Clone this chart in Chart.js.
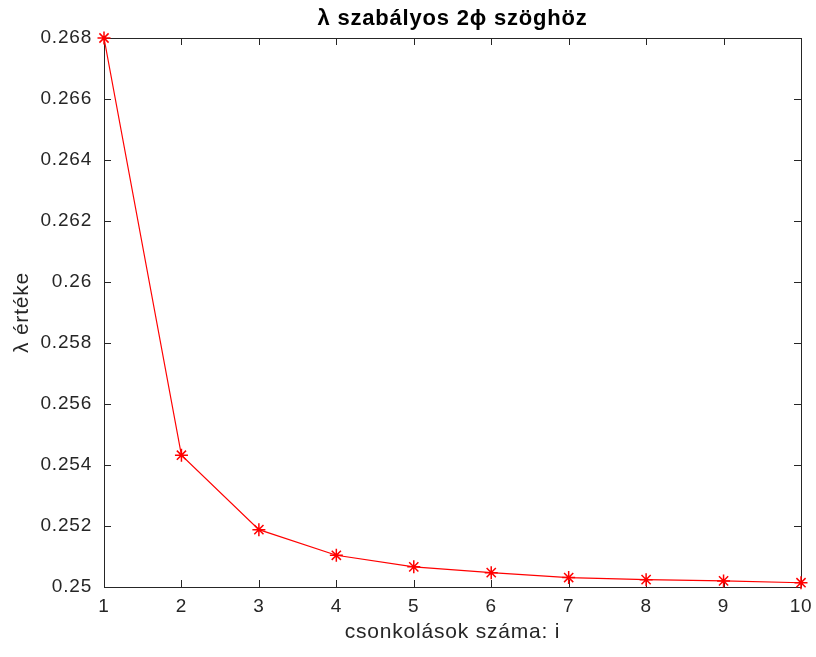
<!DOCTYPE html>
<html>
<head>
<meta charset="utf-8">
<script src="https://cdn.jsdelivr.net/npm/chart.js@4"></script>
<style>
    html, body { margin: 0; padding: 0; background: #fff; }
    canvas { display: block; }
</style>
</head>
<body>
<canvas id="lambdaChart" width="816" height="657"></canvas>
<script>
const iterations = [1, 2, 3, 4, 5, 6, 7, 8, 9, 10];
const lambdaValues = [0.268, 0.25432, 0.25188, 0.25104, 0.25066, 0.25047, 0.25031, 0.25024, 0.2502, 0.25014];
const yTicks = [0.25, 0.252, 0.254, 0.256, 0.258, 0.26, 0.262, 0.264, 0.266, 0.268];
const chartTitle = "λ szabályos 2ϕ szöghöz";
const xTitle = "csonkolások száma: i";
const yTitle = "λ értéke";

const axisColor = "#262626";
const fontFamily = "'Liberation Sans', Arial, Helvetica, sans-serif";

// box around the plot area + inward tick marks on all four sides (matlab look)
const matlabAxes = {
    id: "matlabAxes",
    beforeInit(chart) {
        chart.ctx.letterSpacing = "0.8px"; // matlab text is a bit wider
    },
    beforeDraw(chart) {
        chart.ctx.letterSpacing = "0.8px";
    },
    beforeDatasetsDraw(chart) {
        const { ctx, chartArea: a } = chart;
        const xs = chart.scales.x;
        const ys = chart.scales.y;
        const len = 7;
        ctx.save();
        ctx.strokeStyle = axisColor;
        ctx.lineWidth = 1;
        ctx.beginPath();
        ctx.rect(a.left + 0.5, a.top + 0.5, a.right - a.left, a.bottom - a.top);
        xs.ticks.forEach((t) => {
            const px = Math.round(xs.getPixelForValue(t.value)) + 0.5;
            ctx.moveTo(px, a.bottom);
            ctx.lineTo(px, a.bottom - len);
            ctx.moveTo(px, a.top);
            ctx.lineTo(px, a.top + len);
        });
        ys.ticks.forEach((t) => {
            const py = Math.round(ys.getPixelForValue(t.value)) + 0.5;
            ctx.moveTo(a.left, py);
            ctx.lineTo(a.left + len, py);
            ctx.moveTo(a.right, py);
            ctx.lineTo(a.right - len, py);
        });
        ctx.stroke();

        // title centred over the axes
        ctx.fillStyle = "#000";
        ctx.font = "bold 22px " + fontFamily;
        ctx.textAlign = "center";
        ctx.textBaseline = "middle";
        ctx.fillText(chartTitle, (a.left + a.right) / 2, 19);
        ctx.restore();
    },
};

function renderChart() {
    const ctx = document.getElementById("lambdaChart").getContext("2d");

    new Chart(ctx, {
        type: "line",
        data: {
            datasets: [
                {
                    data: iterations.map((x, i) => ({ x: x, y: lambdaValues[i] })),
                    borderColor: "#ff0000",
                    backgroundColor: "#ff0000",
                    borderWidth: 1.2,
                    pointStyle: "star",
                    pointRadius: 6.5,
                    pointBorderWidth: 1.5,
                    pointBorderColor: "#ff0000",
                    tension: 0,
                    clip: false,
                },
            ],
        },
        options: {
            responsive: false,
            animation: false,
            layout: {
                padding: { top: 38, right: 15, left: 0, bottom: 0 },
            },
            scales: {
                x: {
                    type: "linear",
                    min: 1,
                    max: 10,
                    afterFit: (scale) => {
                        scale.height = 70;
                        scale.paddingLeft = 0;
                        scale.paddingRight = 0;
                    },
                    ticks: {
                        stepSize: 1,
                        padding: 8,
                        color: axisColor,
                        font: { family: fontFamily, size: 19 },
                    },
                    grid: { display: false, drawTicks: false },
                    border: { display: false },
                    title: {
                        display: true,
                        text: xTitle,
                        color: axisColor,
                        padding: 12,
                        font: { family: fontFamily, size: 21 },
                    },
                },
                y: {
                    min: 0.25,
                    max: 0.268,
                    afterFit: (scale) => {
                        scale.width = 104;
                        scale.paddingTop = 0;
                        scale.paddingBottom = 0;
                    },
                    afterBuildTicks: (scale) => {
                        scale.ticks = yTicks.map((v) => ({ value: v }));
                    },
                    ticks: {
                        padding: 12,
                        color: axisColor,
                        font: { family: fontFamily, size: 19 },
                        callback: (v) => String(parseFloat(Number(v).toFixed(3))),
                    },
                    grid: { display: false, drawTicks: false },
                    border: { display: false },
                    title: {
                        display: true,
                        text: yTitle,
                        color: axisColor,
                        padding: 10,
                        font: { family: fontFamily, size: 21 },
                    },
                },
            },
            plugins: {
                legend: { display: false },
                tooltip: { enabled: false },
            },
        },
        plugins: [matlabAxes],
    });
}

renderChart();
</script>
</body>
</html>
